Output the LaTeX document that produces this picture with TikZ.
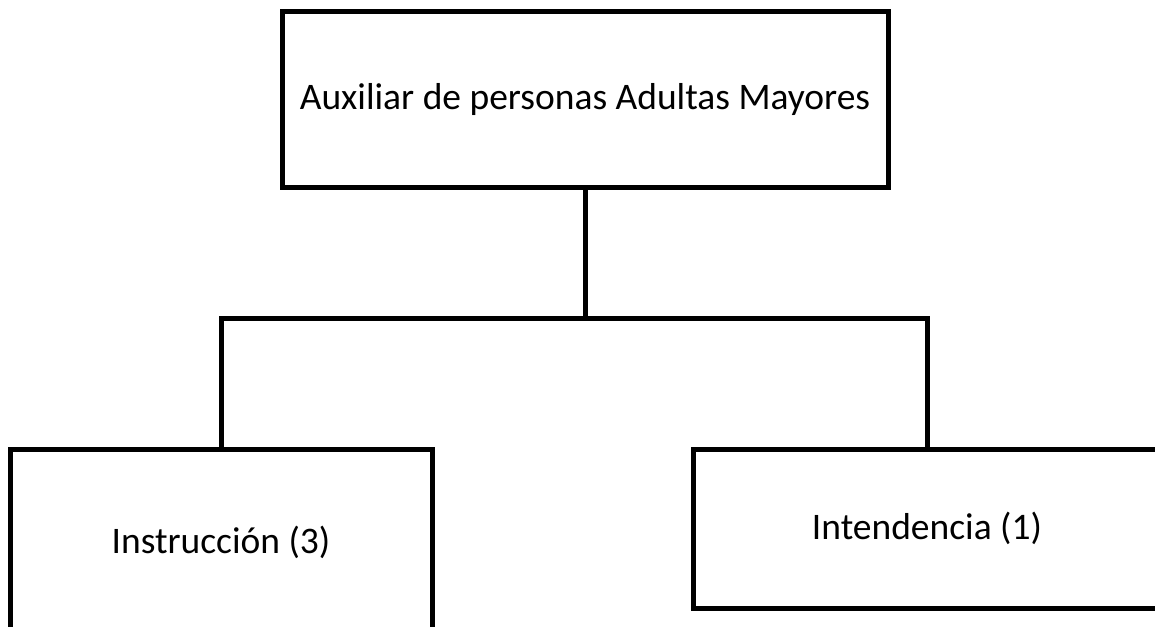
\documentclass[tikz,border=0pt]{standalone}
\usepackage{fontspec}
\setmainfont{Carlito}
\begin{document}
\begin{tikzpicture}[x=1pt,y=-1pt,
  orgbox/.style={draw=black,line width=5pt,inner sep=0pt,align=center,font=\fontsize{37.5}{42}\selectfont},
  link/.style={draw=black,line width=5pt}]
\useasboundingbox (0,0) rectangle (1155,626);
\clip (0,0) rectangle (1155,626);
\fill[white] (0,0) rectangle (1155,626);
\node[orgbox,minimum width=606pt,minimum height=175pt] (top) at (585,99.5) {Auxiliar de personas Adultas Mayores};
\node[orgbox,minimum width=422pt,minimum height=186pt] (left) at (221,542) {\raisebox{3pt}{Instrucción (3)}};
\node[orgbox,minimum width=468pt,minimum height=159pt] (right) at (927,528.5) {Intendencia (1)};
\coordinate (j) at (585,318);
\draw[link] (top.south) -- (j);
\draw[link] (left.north) |- (j) -| (right.north);
\end{tikzpicture}
\end{document}
